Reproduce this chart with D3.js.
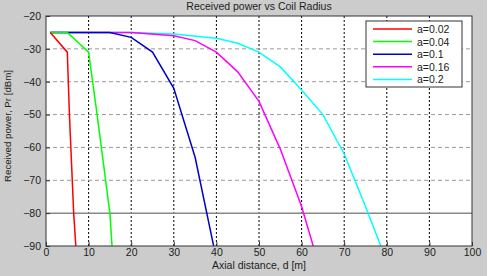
<!DOCTYPE html>
<html>
<head>
<meta charset="utf-8">
<script src="https://cdn.jsdelivr.net/npm/d3@7"></script>
<style>
  body { margin: 0; background: #fff; }
  svg { display: block; font-family: "Liberation Sans", Arial, sans-serif; }
</style>
</head>
<body>
<svg id="chart" width="490" height="276"></svg>
<script>
// values: [axial distance d (m), received power (dBm)]
const seriesNames = ["a=0.02", "a=0.04", "a=0.1", "a=0.16", "a=0.2"];
const seriesColors = ["#ff0000", "#00ff00", "#0000cc", "#ff00ff", "#00ffff"];
const pts002 = [[1, -25], [5, -31], [5.5, -50], [6, -65], [6.5, -80], [7, -90]];
const pts004 = [[1, -25], [5, -25], [10, -31], [12, -50], [13, -60], [14, -70], [15, -80], [15.5, -90]];
const pts01 = [[1, -25], [15, -25], [20, -26.5], [25, -31], [30, -42], [35, -63], [40, -94]];
const pts016 = [[1, -25], [20, -25], [30, -26], [35, -27.5], [40, -31], [45, -37], [50, -46], [55, -60.5], [60, -78], [65, -100]];
const pts02 = [[1, -25], [20, -25], [30, -25.5], [40, -26.8], [45, -28.3], [50, -31], [55, -35.5], [60, -42.5], [65, -50], [70, -62], [75, -78], [80, -94.7]];
const allSeries = [pts002, pts004, pts01, pts016, pts02];

const xTicks = [0, 10, 20, 30, 40, 50, 60, 70, 80, 90, 100];
const yTicks = [-20, -30, -40, -50, -60, -70, -80, -90];

const width = 490, height = 276;
const margin = { top: 16, right: 18, bottom: 30, left: 46 };

const svg = d3.select("#chart");

// figure background
svg.append("rect").attr("width", 487).attr("height", height).attr("fill", "#cccccc");

const x = d3.scaleLinear().domain([0, 100]).range([margin.left, width - margin.right]);
const y = d3.scaleLinear().domain([-90, -20]).range([height - margin.bottom, margin.top]);

svg.append("rect")
  .attr("x", x(0)).attr("y", y(-20))
  .attr("width", x(100) - x(0)).attr("height", y(-90) - y(-20))
  .attr("fill", "#fff");

// grid
const grid = svg.append("g");
grid.selectAll(".vg").data(xTicks.slice(1, -1)).join("line")
  .attr("x1", d => x(d)).attr("x2", d => x(d))
  .attr("y1", y(-20)).attr("y2", y(-90))
  .attr("stroke", "#000").attr("stroke-width", 1).attr("stroke-dasharray", "2,2");
grid.selectAll(".hg").data(yTicks.slice(1, -1)).join("line")
  .attr("x1", x(0)).attr("x2", x(100))
  .attr("y1", d => y(d)).attr("y2", d => y(d))
  .attr("stroke", d => d === -80 ? "#888" : "#999")
  .attr("stroke-width", d => d === -80 ? 1.5 : 1)
  .attr("stroke-dasharray", d => d === -80 ? null : "4,3");

// curves
svg.append("clipPath").attr("id", "clip").append("rect")
  .attr("x", x(0)).attr("y", y(-20))
  .attr("width", x(100) - x(0)).attr("height", y(-90) - y(-20));

const line = d3.line().x(d => x(d[0])).y(d => y(d[1]));
svg.append("g").attr("clip-path", "url(#clip)")
  .selectAll("path").data(allSeries.map((p, i) => ({ p, i })).reverse()).join("path")
  .attr("d", d => line(d.p))
  .attr("fill", "none")
  .attr("stroke", d => seriesColors[d.i])
  .attr("stroke-width", 1.5);

// axes
const xAxis = d3.axisBottom(x).tickValues(xTicks).tickSize(-4).tickPadding(3).tickFormat(d3.format("d"));
const yAxis = d3.axisLeft(y).tickValues(yTicks).tickSize(-4).tickPadding(5);

svg.append("g").attr("transform", `translate(0,${y(-90)})`).call(xAxis)
  .call(g => g.select(".domain").remove());
svg.append("g").attr("transform", `translate(${x(0)},0)`).call(yAxis)
  .call(g => g.select(".domain").remove());
svg.selectAll(".tick line").attr("stroke", "#333");
svg.selectAll(".tick text").attr("font-size", 10.5).attr("fill", "#222")
  .attr("font-family", "Liberation Sans, Arial, sans-serif");

svg.append("rect")
  .attr("x", x(0)).attr("y", y(-20))
  .attr("width", x(100) - x(0)).attr("height", y(-90) - y(-20))
  .attr("fill", "none").attr("stroke", "#333").attr("stroke-width", 1);

// texts
svg.append("text").attr("x", (x(0) + x(100)) / 2).attr("y", 10)
  .attr("text-anchor", "middle").attr("font-size", 10.5).attr("fill", "#222")
  .text("Received power vs Coil Radius");
svg.append("text").attr("x", (x(0) + x(100)) / 2).attr("y", 269)
  .attr("text-anchor", "middle").attr("font-size", 10.5).attr("fill", "#222")
  .text("Axial distance, d [m]");
svg.append("text")
  .attr("transform", "translate(11,126) rotate(-90)")
  .attr("text-anchor", "middle").attr("font-size", 9.5).attr("fill", "#222")
  .attr("textLength", 112).attr("lengthAdjust", "spacingAndGlyphs")
  .text("Received power, Pr [dBm]");

// legend
const lg = svg.append("g").attr("transform", "translate(366,21)");
lg.append("rect").attr("width", 96).attr("height", 66)
  .attr("fill", "#fff").attr("stroke", "#333");
const items = lg.selectAll("g").data(seriesNames).join("g")
  .attr("transform", (d, i) => `translate(0,${8 + i * 12.6})`);
items.append("line").attr("x1", 7).attr("x2", 46)
  .attr("stroke", (d, i) => seriesColors[i]).attr("stroke-width", 1.5);
items.append("text").attr("x", 51).attr("y", 4)
  .attr("font-size", 10.5).attr("fill", "#222").text(d => d);
</script>
</body>
</html>
